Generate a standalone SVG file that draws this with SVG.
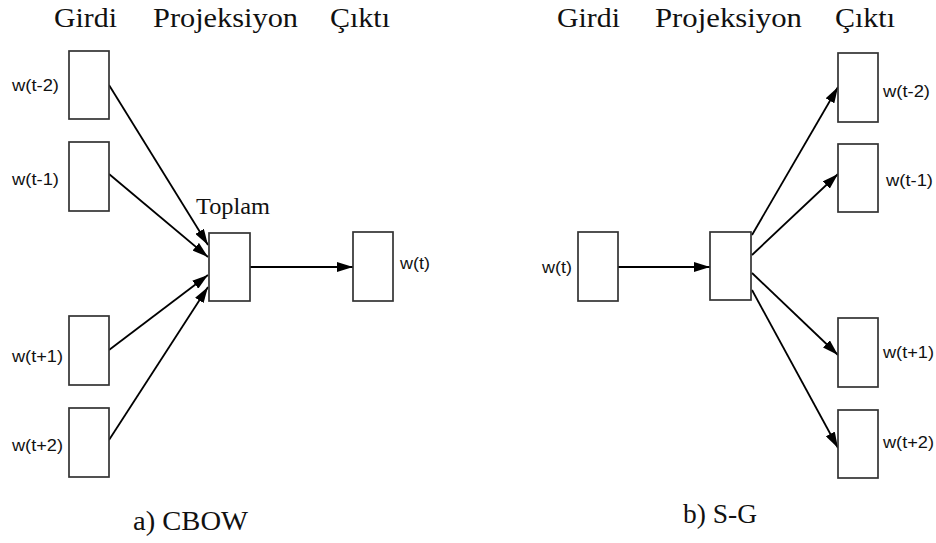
<svg xmlns="http://www.w3.org/2000/svg" width="936" height="543" viewBox="0 0 936 543">
<defs>
<marker id="ah" viewBox="0 0 16 10" refX="16" refY="5" markerWidth="16" markerHeight="10" markerUnits="userSpaceOnUse" orient="auto">
<path d="M0,0 L16,5 L0,10 Z" fill="#000"/>
</marker>
<style>
.box{fill:#fff;stroke:#333;stroke-width:1.7}
.hd{font-family:"Liberation Serif","Times New Roman",serif;font-size:28px;fill:#111}
.lb{font-family:"Liberation Sans",Arial,sans-serif;font-size:16.5px;fill:#111}
.cap{font-family:"Liberation Serif","Times New Roman",serif;font-size:27px;fill:#111}
.ln{stroke:#000;stroke-width:1.8;fill:none;marker-end:url(#ah)}
</style>
</defs>
<rect width="936" height="543" fill="#fff"/>
<g id="headers-left">
<text class="hd" x="54" y="27" textLength="63" lengthAdjust="spacingAndGlyphs">Girdi</text>
<text class="hd" x="153" y="27" textLength="145" lengthAdjust="spacingAndGlyphs">Projeksiyon</text>
<text class="hd" x="330" y="27" textLength="60" lengthAdjust="spacingAndGlyphs">Çıktı</text>
</g>
<g id="headers-right">
<text class="hd" x="557" y="27" textLength="63" lengthAdjust="spacingAndGlyphs">Girdi</text>
<text class="hd" x="655" y="27" textLength="147" lengthAdjust="spacingAndGlyphs">Projeksiyon</text>
<text class="hd" x="835" y="27" textLength="60" lengthAdjust="spacingAndGlyphs">Çıktı</text>
</g>
<g id="connectors">
<line class="ln" x1="109" y1="85" x2="208" y2="245"/>
<line class="ln" x1="109" y1="174" x2="208" y2="257"/>
<line class="ln" x1="109" y1="350" x2="208" y2="275"/>
<line class="ln" x1="109" y1="440" x2="208" y2="287"/>
<line class="ln" x1="250" y1="267" x2="353" y2="267"/>
<line class="ln" x1="618" y1="267" x2="710" y2="267"/>
<line class="ln" x1="752" y1="235" x2="838" y2="87"/>
<line class="ln" x1="752" y1="255" x2="838" y2="174"/>
<line class="ln" x1="752" y1="273" x2="838" y2="355"/>
<line class="ln" x1="752" y1="290" x2="838" y2="448"/>
</g>
<g id="cbow-in-t-2"><rect class="box" x="69" y="51" width="40" height="68"/><text class="lb" x="12" y="91" textLength="47" lengthAdjust="spacingAndGlyphs">w(t-2)</text></g>
<g id="cbow-in-t-1"><rect class="box" x="69" y="142" width="40" height="69"/><text class="lb" x="12" y="185" textLength="47" lengthAdjust="spacingAndGlyphs">w(t-1)</text></g>
<g id="cbow-in-t+1"><rect class="box" x="69" y="316" width="40" height="69"/><text class="lb" x="12" y="362" textLength="51" lengthAdjust="spacingAndGlyphs">w(t+1)</text></g>
<g id="cbow-in-t+2"><rect class="box" x="69" y="408" width="40" height="69"/><text class="lb" x="12" y="451" textLength="51" lengthAdjust="spacingAndGlyphs">w(t+2)</text></g>
<g id="cbow-proj"><rect class="box" x="209" y="233" width="41" height="68"/><text class="hd" x="196" y="214" style="font-size:24px" textLength="74" lengthAdjust="spacingAndGlyphs">Toplam</text></g>
<g id="cbow-out"><rect class="box" x="353" y="232" width="40" height="69"/><text class="lb" x="400" y="269" textLength="30" lengthAdjust="spacingAndGlyphs">w(t)</text></g>
<g id="sg-in"><rect class="box" x="578" y="232" width="40" height="69"/><text class="lb" x="542" y="273" textLength="30" lengthAdjust="spacingAndGlyphs">w(t)</text></g>
<g id="sg-proj"><rect class="box" x="710" y="232" width="41" height="68"/></g>
<g id="sg-out-t-2"><rect class="box" x="838" y="53" width="40" height="69"/><text class="lb" x="883" y="97" textLength="47" lengthAdjust="spacingAndGlyphs">w(t-2)</text></g>
<g id="sg-out-t-1"><rect class="box" x="838" y="144" width="40" height="68"/><text class="lb" x="886" y="186" textLength="47" lengthAdjust="spacingAndGlyphs">w(t-1)</text></g>
<g id="sg-out-t+1"><rect class="box" x="838" y="318" width="40" height="69"/><text class="lb" x="883" y="358" textLength="51" lengthAdjust="spacingAndGlyphs">w(t+1)</text></g>
<g id="sg-out-t+2"><rect class="box" x="838" y="410" width="40" height="68"/><text class="lb" x="883" y="448" textLength="51" lengthAdjust="spacingAndGlyphs">w(t+2)</text></g>
<g id="captions">
<text class="cap" x="133" y="530" textLength="115" lengthAdjust="spacingAndGlyphs">a) CBOW</text>
<text class="cap" x="683" y="523" textLength="74" lengthAdjust="spacingAndGlyphs">b) S-G</text>
</g>
</svg>
